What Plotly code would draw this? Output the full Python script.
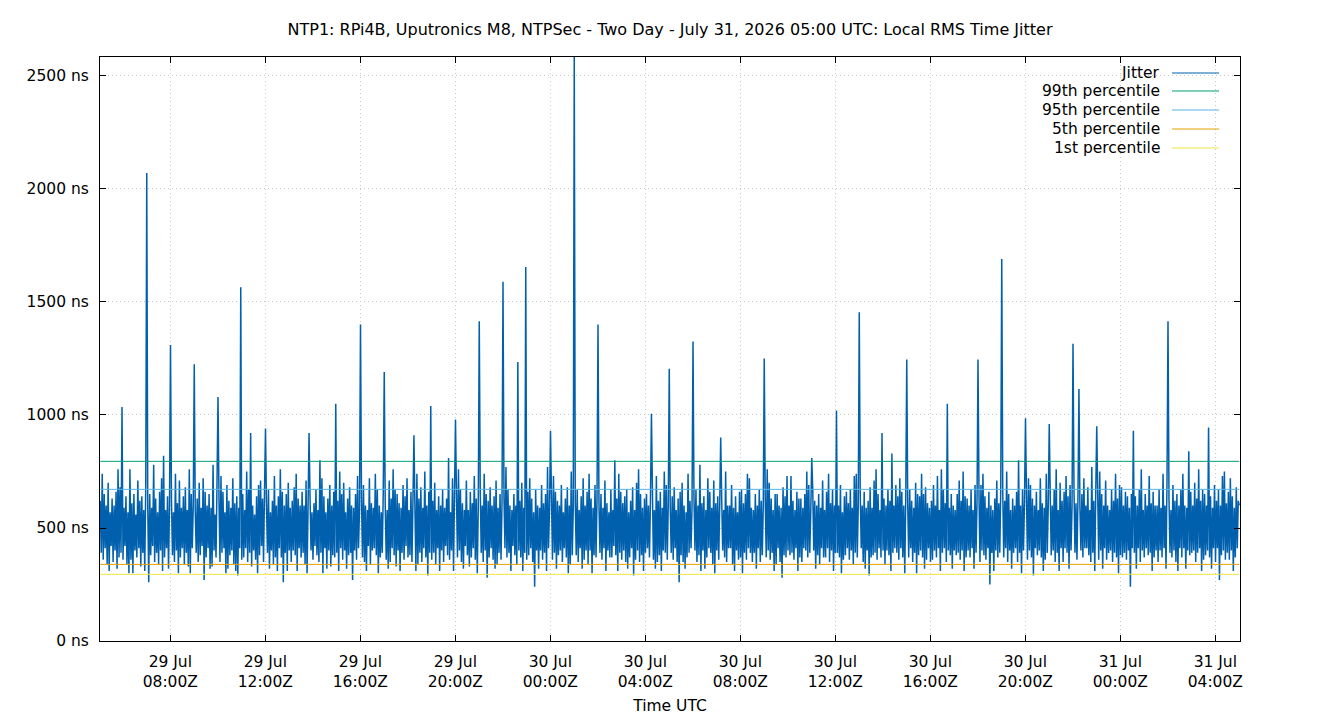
import pandas as pd
import plotly.graph_objects as go

TITLE = "NTP1: RPi4B, Uputronics M8, NTPSec - Two Day - July 31, 2026 05:00 UTC: Local RMS Time Jitter"

start_time = "2026-07-29 05:03:00"
sample_seconds = 150

# Local RMS time jitter (ns), one sample every 2.5 minutes, estimated from the chart
jitter_ns = [
    620, 390, 740, 360, 650, 410, 600, 340, 700, 310, 570, 420,
    630, 350, 600, 400, 660, 320, 760, 370, 680, 390, 1035, 360,
    590, 420, 640, 340, 570, 300, 760, 360, 610, 300, 650, 400,
    560, 370, 710, 410, 620, 330, 640, 390, 580, 310, 690, 2071,
    600, 260, 650, 380, 590, 420, 780, 350, 630, 390, 570, 340,
    660, 400, 720, 310, 820, 370, 580, 410, 640, 320, 600, 1310,
    620, 380, 570, 350, 740, 400, 610, 300, 710, 370, 590, 410,
    640, 340, 680, 390, 580, 330, 760, 300, 650, 410, 600, 1225,
    580, 390, 630, 350, 700, 380, 590, 420, 720, 270, 660, 370,
    600, 410, 650, 320, 590, 330, 780, 400, 560, 370, 700, 1080,
    630, 350, 730, 390, 660, 410, 570, 300, 690, 320, 620, 380,
    590, 400, 720, 340, 610, 310, 640, 290, 590, 410, 1565, 360,
    650, 370, 580, 410, 750, 350, 670, 390, 920, 330, 600, 400,
    560, 360, 640, 300, 690, 380, 710, 420, 630, 350, 660, 940,
    600, 390, 670, 320, 570, 400, 620, 340, 730, 370, 600, 310,
    640, 410, 760, 370, 660, 260, 600, 390, 650, 310, 700, 400,
    590, 350, 620, 400, 680, 380, 740, 310, 630, 410, 600, 370,
    660, 390, 600, 340, 710, 300, 590, 920, 640, 400, 570, 360,
    610, 420, 670, 380, 580, 350, 800, 390, 720, 300, 640, 410,
    570, 320, 630, 400, 690, 330, 600, 380, 660, 370, 1050, 390,
    620, 310, 750, 410, 650, 360, 700, 400, 570, 320, 630, 380,
    680, 390, 600, 270, 590, 400, 650, 360, 730, 410, 580, 1400,
    630, 370, 690, 350, 600, 310, 580, 420, 720, 340, 610, 400,
    590, 410, 740, 380, 670, 300, 600, 370, 570, 390, 660, 1190,
    600, 360, 580, 320, 710, 350, 630, 410, 760, 380, 670, 330,
    650, 400, 610, 310, 590, 390, 690, 360, 640, 420, 720, 370,
    580, 380, 660, 350, 620, 910, 590, 310, 740, 340, 630, 390,
    680, 350, 590, 410, 750, 370, 600, 290, 660, 390, 1040, 360,
    620, 390, 700, 340, 580, 410, 640, 310, 600, 400, 670, 350,
    590, 420, 630, 380, 810, 360, 570, 400, 720, 310, 650, 980,
    640, 370, 760, 400, 670, 350, 610, 320, 580, 420, 710, 380,
    580, 330, 660, 370, 610, 410, 730, 360, 630, 300, 590, 1415,
    670, 390, 600, 350, 740, 400, 650, 280, 620, 370, 680, 410,
    600, 360, 640, 320, 710, 340, 590, 390, 650, 360, 610, 1590,
    630, 410, 770, 370, 670, 390, 600, 310, 580, 420, 650, 380,
    600, 340, 1235, 400, 620, 370, 700, 310, 590, 390, 1655, 360,
    660, 380, 720, 410, 630, 350, 570, 240, 670, 400, 600, 320,
    590, 400, 690, 360, 610, 390, 650, 310, 770, 410, 580, 930,
    640, 360, 730, 390, 660, 320, 620, 380, 600, 400, 690, 350,
    570, 410, 630, 370, 680, 300, 600, 340, 750, 380, 590, 2584,
    620, 380, 670, 350, 580, 410, 640, 320, 720, 360, 600, 400,
    660, 340, 740, 400, 630, 300, 590, 380, 690, 370, 620, 1400,
    600, 390, 650, 360, 590, 410, 710, 310, 610, 400, 570, 370,
    670, 370, 580, 420, 800, 380, 630, 310, 740, 390, 660, 360,
    610, 400, 640, 350, 670, 320, 570, 370, 620, 410, 680, 290,
    580, 360, 700, 400, 760, 350, 650, 380, 590, 310, 630, 390,
    650, 410, 600, 370, 620, 1005, 670, 360, 580, 320, 730, 350,
    620, 380, 660, 310, 590, 400, 750, 390, 690, 360, 600, 1205,
    590, 390, 640, 360, 680, 410, 580, 350, 630, 260, 660, 380,
    700, 350, 600, 320, 570, 370, 740, 390, 620, 410, 590, 1325,
    630, 400, 670, 350, 600, 380, 780, 310, 610, 400, 640, 320,
    580, 370, 720, 410, 660, 390, 590, 340, 710, 300, 610, 400,
    640, 360, 600, 900, 630, 400, 580, 370, 750, 350, 600, 410,
    600, 410, 690, 340, 590, 310, 640, 400, 570, 360, 660, 370,
    670, 300, 610, 390, 650, 360, 740, 410, 720, 390, 590, 350,
    580, 390, 650, 320, 600, 410, 670, 350, 620, 380, 600, 1250,
    620, 370, 760, 400, 700, 360, 630, 390, 580, 310, 650, 340,
    650, 410, 600, 350, 590, 280, 680, 380, 640, 370, 730, 400,
    600, 380, 730, 390, 620, 360, 580, 410, 660, 310, 630, 370,
    630, 350, 590, 410, 650, 400, 750, 370, 690, 390, 570, 810,
    670, 400, 620, 320, 600, 380, 650, 340, 590, 410, 710, 370,
    580, 370, 660, 410, 740, 350, 610, 400, 670, 310, 600, 390,
    1020, 390, 600, 370, 690, 300, 570, 360, 640, 380, 660, 410,
    610, 360, 670, 400, 590, 340, 730, 390, 740, 370, 600, 1455,
    650, 410, 600, 350, 660, 320, 590, 400, 620, 290, 680, 370,
    590, 380, 710, 390, 760, 360, 650, 410, 580, 370, 920, 400,
    630, 340, 600, 400, 670, 380, 620, 310, 830, 390, 600, 410,
    690, 390, 640, 360, 720, 410, 660, 370, 600, 300, 630, 1245,
    600, 370, 670, 410, 620, 350, 590, 390, 700, 300, 650, 380,
    640, 400, 740, 370, 650, 320, 680, 360, 610, 410, 590, 350,
    620, 360, 690, 400, 600, 370, 730, 410, 580, 310, 760, 390,
    670, 410, 610, 350, 1050, 400, 590, 380, 650, 320, 600, 400,
    580, 380, 650, 390, 710, 360, 620, 400, 750, 310, 640, 370,
    630, 400, 600, 370, 670, 410, 580, 320, 690, 390, 610, 1245,
    650, 350, 690, 400, 740, 380, 640, 360, 590, 410, 660, 250,
    600, 390, 580, 310, 630, 400, 710, 370, 610, 390, 670, 1690,
    670, 370, 620, 410, 750, 350, 650, 400, 580, 320, 630, 390,
    600, 410, 660, 350, 800, 390, 600, 300, 670, 400, 620, 985,
    640, 360, 720, 400, 690, 370, 630, 290, 600, 410, 660, 380,
    580, 400, 720, 370, 610, 310, 590, 360, 740, 390, 600, 960,
    650, 380, 600, 400, 670, 350, 760, 390, 580, 310, 700, 410,
    620, 350, 660, 410, 730, 390, 640, 320, 690, 400, 590, 1315,
    670, 390, 610, 360, 630, 1115, 590, 400, 650, 370, 720, 410,
    600, 410, 680, 380, 580, 350, 770, 390, 620, 310, 660, 950,
    640, 360, 750, 400, 650, 320, 600, 410, 710, 360, 600, 390,
    580, 400, 670, 350, 620, 390, 740, 370, 630, 300, 690, 380,
    680, 370, 600, 390, 660, 360, 640, 400, 590, 240, 650, 410,
    930, 390, 640, 320, 600, 410, 670, 350, 760, 400, 580, 370,
    650, 410, 600, 380, 730, 390, 610, 310, 660, 370, 600, 400,
    600, 350, 670, 400, 590, 370, 740, 410, 600, 320, 710, 1415,
    630, 390, 580, 370, 690, 400, 620, 350, 650, 310, 600, 410,
    670, 370, 740, 410, 600, 320, 590, 400, 840, 380, 660, 390,
    600, 400, 700, 350, 630, 390, 760, 410, 620, 310, 670, 360,
    650, 380, 600, 400, 945, 370, 640, 320, 590, 410, 690, 350,
    620, 410, 670, 270, 600, 380, 730, 400, 750, 360, 610, 390,
    660, 360, 720, 400, 640, 310, 590, 370, 680, 410, 620, 600,
]

percentile_names = ["99th percentile", "95th percentile", "5th percentile", "1st percentile"]
percentile_ns = [795, 671, 339, 295]

x_range = ["2026-07-29 05:02:24", "2026-07-31 05:02:24"]
y_max = 2584

series_names = ["Jitter"] + percentile_names
series_colors = ["#0060ad", "#009e73", "#56b4e9", "#e69f00", "#f0e442"]

FONT = "DejaVu Sans"
FS = 15.5

times = pd.date_range(start=start_time, periods=len(jitter_ns), freq=f"{sample_seconds}s")

fig = go.Figure()
fig.add_trace(go.Scatter(x=times, y=jitter_ns, mode="lines", name="Jitter",
                         line=dict(color=series_colors[0], width=1.5, simplify=False),
                         showlegend=False))
for name, val, col in zip(percentile_names, percentile_ns, series_colors[1:]):
    fig.add_trace(go.Scatter(x=[times[0], times[-1]], y=[val, val], mode="lines", name=name,
                             line=dict(color=col, width=1), showlegend=False))

# gnuplot-style key: text right-aligned, sample line to its right
key_text_x = 0.9316
key_line_x0, key_line_x1 = 0.9404, 0.9816
key_y = [0.9726, 0.9418, 0.9092, 0.8767, 0.8442]
for name, col, ky in zip(series_names, series_colors, key_y):
    fig.add_annotation(x=key_text_x, y=ky, xref="paper", yref="paper", text=name,
                       showarrow=False, xanchor="right", yanchor="middle",
                       font=dict(family=FONT, size=FS, color="black"))
    fig.add_shape(type="line", xref="paper", yref="paper", x0=key_line_x0, x1=key_line_x1,
                  y0=ky, y1=ky, line=dict(color=col, width=1))

fig.update_layout(
    width=1340, height=720,
    margin=dict(l=100, r=100, t=57, b=79),
    paper_bgcolor="white", plot_bgcolor="white",
    font=dict(family=FONT, size=FS, color="black"),
    title=dict(text=TITLE, x=0.5, xanchor="center", y=1 - 29 / 720, yanchor="middle",
               font=dict(family=FONT, size=16, color="black")),
    showlegend=False,
)
fig.update_xaxes(
    type="date", range=x_range, automargin=False,
    tick0="2026-07-29 00:00", dtick=4 * 3600 * 1000,
    tickformat="%d %b<br>%H:%MZ",
    ticks="inside", ticklen=6, tickcolor="black", mirror="ticks",
    showline=True, linecolor="black", linewidth=1,
    showgrid=True, gridcolor="#c8c8c8", griddash="1px,3px", gridwidth=1,
    zeroline=False, ticklabelstandoff=6,
    title=dict(text="Time UTC", standoff=10, font=dict(family=FONT, size=FS)),
    tickfont=dict(family=FONT, size=FS),
)
fig.update_yaxes(
    range=[0, y_max], dtick=500, tick0=0, ticksuffix=" ns", automargin=False,
    ticks="inside", ticklen=6, tickcolor="black", mirror="ticks",
    showline=True, linecolor="black", linewidth=1,
    showgrid=True, gridcolor="#c8c8c8", griddash="1px,3px", gridwidth=1,
    zeroline=False, ticklabelstandoff=7,
    tickfont=dict(family=FONT, size=FS),
)

fig.write_html("out.html")
